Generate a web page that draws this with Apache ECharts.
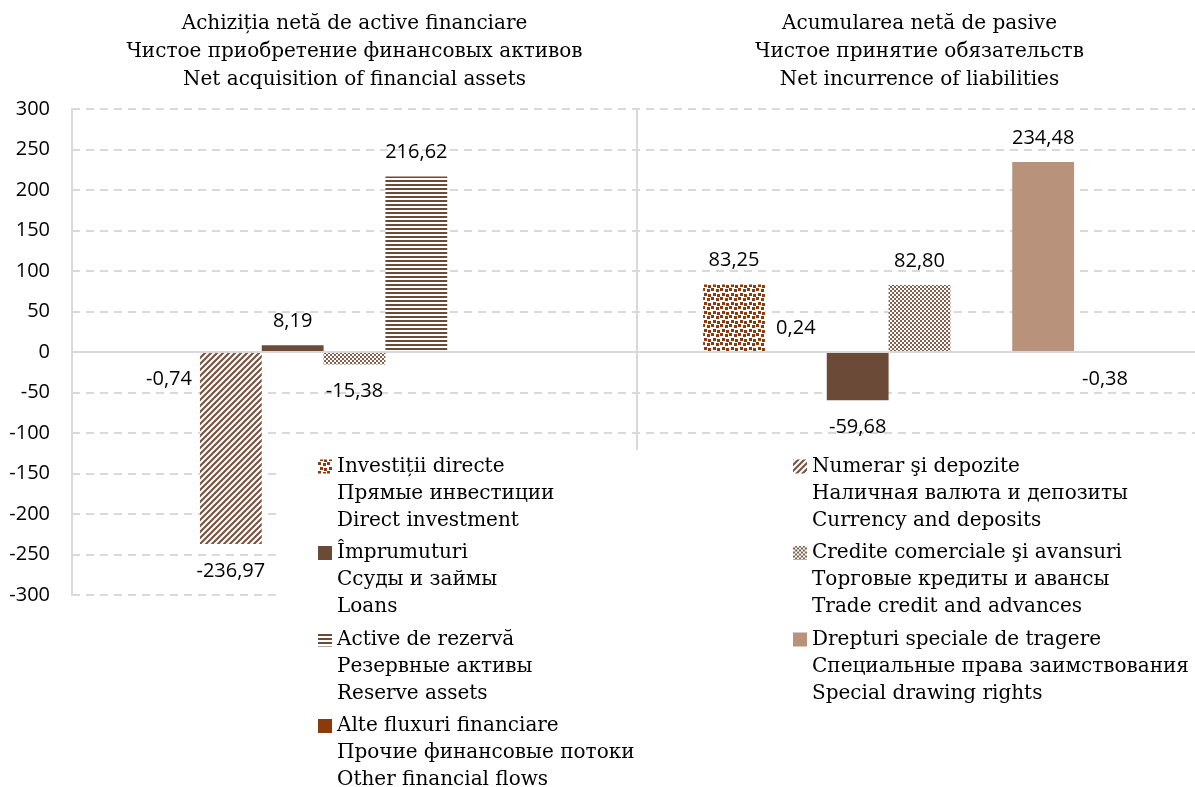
<!DOCTYPE html>
<html>
<head>
<meta charset="utf-8">
<script src="https://cdn.jsdelivr.net/npm/echarts@6/dist/echarts.min.js"></script>
<style>
  html, body { margin: 0; padding: 0; background: #fff; overflow: hidden; }
  #main { width: 1202px; height: 787px; }
</style>
</head>
<body>
<div id="main"></div>
<script>
const categories = [
    'Achiziția netă de active financiare\nЧистое приобретение финансовых активов\nNet acquisition of financial assets',
    'Acumularea netă de pasive\nЧистое принятие обязательств\nNet incurrence of liabilities'
];

const directInvestment = [-0.74, 83.25];
const currencyDeposits = [-236.97, 0.24];
const loans = [8.19, -59.68];
const tradeCredit = [-15.38, 82.80];
const reserveAssets = [216.62, null];
const specialDrawingRights = [null, 234.48];
const otherFlows = [null, -0.38];

const names = {
    di: 'Investiții directe\nПрямые инвестиции\nDirect investment',
    cd: 'Numerar şi depozite\nНаличная валюта и депозиты\nCurrency and deposits',
    lo: 'Împrumuturi\nСсуды и займы\nLoans',
    tc: 'Credite comerciale şi avansuri\nТорговые кредиты и авансы\nTrade credit and advances',
    ra: 'Active de rezervă\nРезервные активы\nReserve assets',
    sdr: 'Drepturi speciale de tragere\nСпециальные права заимствования\nSpecial drawing rights',
    of: 'Alte fluxuri financiare\nПрочие финансовые потоки\nOther financial flows'
};

// small tiles used as fill patterns
function makePattern(size, draw) {
    const c = document.createElement('canvas');
    c.width = size;
    c.height = size;
    const ctx = c.getContext('2d');
    ctx.fillStyle = '#ffffff';
    ctx.fillRect(0, 0, size, size);
    draw(ctx);
    return {image: c, repeat: 'repeat'};
}

const confetti = makePattern(9, ctx => {
    ctx.fillStyle = '#8b3a0e';
    [[0, 0], [5, 1], [2, 5], [6, 6]].forEach(p => ctx.fillRect(p[0], p[1], 3, 3));
});

const diagonal = makePattern(6, ctx => {
    ctx.strokeStyle = '#7d553f';
    ctx.lineWidth = 2.2;
    ctx.beginPath();
    [0, 6, 12].forEach(c => {
        ctx.moveTo(c + 1, -1);
        ctx.lineTo(-1, c + 1);
    });
    ctx.stroke();
});

const checker = makePattern(4, ctx => {
    ctx.fillStyle = '#86604a';
    ctx.fillRect(0, 0, 2, 2);
    ctx.fillRect(2, 2, 2, 2);
});

const hstripes = makePattern(4, ctx => {
    ctx.fillStyle = '#6b4b37';
    ctx.fillRect(0, 0, 4, 2);
});

// square at the top of a tall box, so the icon sits on the first text line
const legendIcon = 'path://M0,0H14M0,6.5H14V20.5H0ZM0,81H14';

function toData(arr) {
    return arr.map(v => v == null ? null : {
        value: v,
        label: {position: v < 0 ? 'bottom' : 'top', distance: v < 0 ? 17 : 14}
    });
}

function barSeries(name, arr, color) {
    return {
        name: name,
        type: 'bar',
        data: toData(arr),
        barGap: 0,
        barCategoryGap: '23.4%',
        itemStyle: {color: color},
        label: {
            show: true,
            fontFamily: 'Open Sans',
            fontSize: 20,
            color: '#000',
            formatter: p => p.value.toFixed(2).replace('.', ',')
        }
    };
}

const series = [
    barSeries(names.di, directInvestment, confetti),
    barSeries(names.cd, currencyDeposits, diagonal),
    barSeries(names.lo, loans, '#6b4b37'),
    barSeries(names.tc, tradeCredit, checker),
    barSeries(names.ra, reserveAssets, hstripes),
    barSeries(names.sdr, specialDrawingRights, '#b8927a'),
    barSeries(names.of, otherFlows, '#8b3a0e')
];

series[0].markLine = {
    silent: true,
    symbol: 'none',
    label: {show: false},
    lineStyle: {color: '#d9d9d9', type: 'solid', width: 2},
    data: [{yAxis: 0}]
};

const legendText = {
    fontFamily: 'DejaVu Serif',
    fontSize: 20,
    lineHeight: 27,
    color: '#000'
};

function legendBlock(left, items) {
    return {
        z: 10,
        orient: 'vertical',
        left: left,
        top: 453,
        height: 400,
        padding: 0,
        itemGap: 5.5,
        itemWidth: 14,
        itemHeight: 81,
        icon: legendIcon,
        selectedMode: false,
        textStyle: legendText,
        data: items
    };
}

const myChart = echarts.init(document.getElementById('main'));

myChart.setOption({
    animation: false,
    grid: {left: 72, right: 0, top: 109, bottom: 192},
    xAxis: {
        type: 'category',
        position: 'top',
        data: categories,
        axisLine: {show: false},
        axisTick: {show: false},
        splitLine: {show: true, interval: 0, lineStyle: {color: '#d9d9d9', width: 2}},
        axisLabel: {
            interval: 0,
            fontFamily: 'DejaVu Serif',
            fontSize: 20,
            lineHeight: 28,
            color: '#000',
            margin: 15
        }
    },
    yAxis: {
        type: 'value',
        min: -300,
        max: 300,
        interval: 50,
        axisLine: {show: true, lineStyle: {color: '#d9d9d9', width: 2}},
        axisTick: {show: false},
        splitLine: {lineStyle: {color: '#d9d9d9', width: 2, type: [8, 6]}},
        axisLabel: {fontFamily: 'Open Sans', fontSize: 20, color: '#000', margin: 22}
    },
    legend: [
        legendBlock(318, [names.di, names.lo, names.ra, names.of]),
        legendBlock(793, [names.cd, names.tc, names.sdr])
    ],
    graphic: [{
        type: 'rect',
        z: 5,
        silent: true,
        shape: {x: 280, y: 450, width: 930, height: 340},
        style: {fill: '#ffffff'}
    }],
    series: series
});
</script>
</body>
</html>
